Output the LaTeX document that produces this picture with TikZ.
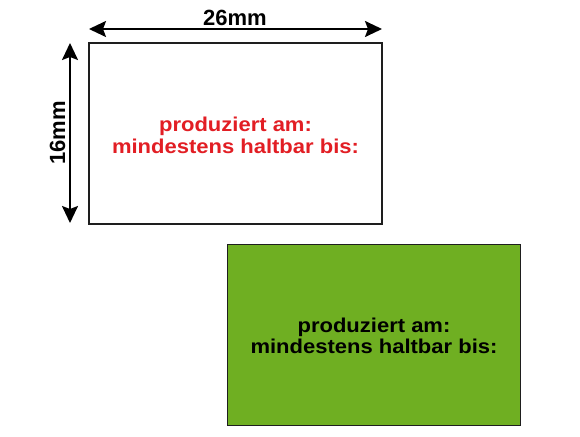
\documentclass[tikz,border=0pt]{standalone}
\usepackage{fontspec}
\setmainfont{Liberation Sans}
\usetikzlibrary{arrows.meta}
\definecolor{labelred}{RGB}{226,30,36}
\definecolor{labelgreen}{RGB}{111,175,34}
\definecolor{edgegray}{RGB}{30,30,30}
\tikzset{
  labelbox/.style={draw=edgegray, line width=1.8pt, minimum width=293pt, minimum height=181pt, inner sep=0pt},
  labeltext/.style={align=center, inner sep=0pt, font=\bfseries\fontsize{20}{21.5}\selectfont},
  dimline/.style={line width=2pt, {Stealth[length=17pt,width=16pt,inset=3pt]}-{Stealth[length=17pt,width=16pt,inset=3pt]}},
  dimtext/.style={inner sep=0pt, font=\bfseries\fontsize{22}{24}\selectfont}
}
\begin{document}
\begin{tikzpicture}[x=1pt,y=-1pt]
\useasboundingbox[fill=white] (0,0) rectangle (580,436);
% top (white) label
\node[labelbox, fill=white] (topbox) at (235.5,133.5) {};
\node[labeltext, text=labelred] (toptext) at (235.5,138.3) {\scalebox{1.1}[1]{\begin{tabular}{@{}c@{}}produziert am:\\mindestens haltbar bis:\end{tabular}}};
% bottom (green) label
\node[labelbox, fill=labelgreen] (greenbox) at (374,335) {};
\node[labeltext, text=black] (greentext) at (374,338.5) {\scalebox{1.1}[1]{\begin{tabular}{@{}c@{}}produziert am:\\mindestens haltbar bis:\end{tabular}}};
% dimension arrows
\coordinate (wL) at (89,29);
\coordinate (wR) at (382,29);
\coordinate (hT) at (70,43);
\coordinate (hB) at (70,223);
\draw[dimline] (wL) -- (wR);
\draw[dimline] (hT) -- (hB);
\node[dimtext, anchor=base] (wlabel) at (235,26) {26mm};
\node[dimtext, anchor=base, rotate=90] (hlabel) at (65,133) {16mm};
\end{tikzpicture}
\end{document}
